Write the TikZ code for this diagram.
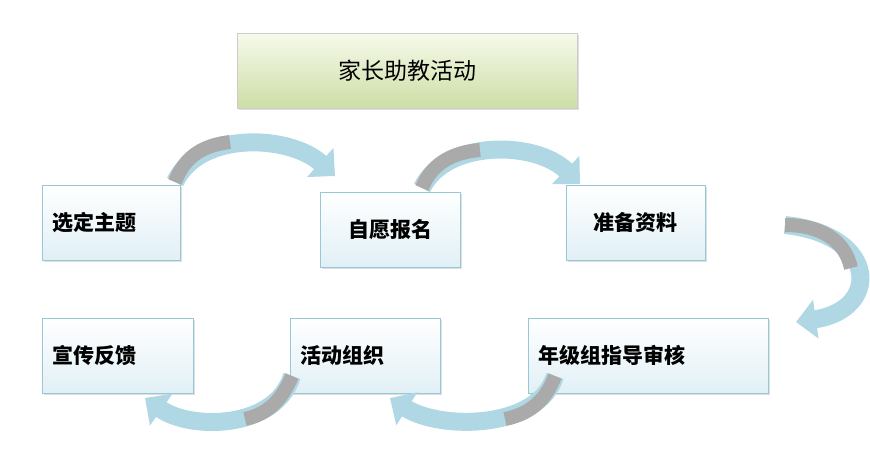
\documentclass[tikz,border=0pt]{standalone}
\usepackage{fontspec}
\newfontfamily\cjk{Noto Sans CJK SC}
\usetikzlibrary{arrows.meta,positioning,shadows}
\definecolor{boxline}{RGB}{150, 200, 215}
\definecolor{boxtop}{RGB}{255, 255, 255}
\definecolor{boxbot}{RGB}{225, 240, 246}
\definecolor{greentop}{RGB}{246, 250, 235}
\definecolor{greenbot}{RGB}{205, 222, 165}
\definecolor{arrowblue}{RGB}{175, 215, 228}
\definecolor{arrowgray}{RGB}{170, 170, 170}
\tikzset{
  stepbox/.style={draw=boxline, top color=boxtop, bottom color=boxbot,
    minimum height=75pt, anchor=north west, font=\cjk\bfseries\fontsize{21}{24}\selectfont,
    drop shadow={opacity=0.25, shadow xshift=2pt, shadow yshift=-2pt}},
  titlebox/.style={draw=black!20, top color=greentop, bottom color=greenbot,
    minimum width=340pt, minimum height=75pt, anchor=north west,
    font=\cjk\fontsize{23}{26}\selectfont,
    drop shadow={opacity=0.25, shadow xshift=2pt, shadow yshift=-2pt}},
  flow/.style={line width=18pt, arrowblue, -{Triangle[length=20pt, width=38pt]}},
  flowcore/.style={line width=14pt, arrowgray}
}
\begin{document}
\begin{tikzpicture}[x=1pt, y=-1pt]
  \useasboundingbox (0,0) rectangle (870,467);
  % title
  \node[titlebox] (title) at (237,33) {家长助教活动};
  % upper row
  \node[stepbox, minimum width=138pt, align=left, text width=118pt] (topic) at (42,185) {选定主题};
  \node[stepbox, minimum width=140pt, align=center] (signup) at (320,192) {自愿报名};
  \node[stepbox, minimum width=139pt, align=center] (prepare) at (566,185) {准备资料};
  % lower row
  \node[stepbox, minimum width=151pt, align=left, text width=131pt] (feedback) at (42,318) {宣传反馈};
  \node[stepbox, minimum width=150pt, align=left, text width=130pt] (organize) at (290,318) {活动组织};
  \node[stepbox, minimum width=240pt, align=left, text width=220pt] (review) at (528,318) {年级组指导审核};
  % curved arrows
  \coordinate (a1s) at (175,182);
  \coordinate (a1e) at (335,176);
  \draw[flow] (a1s) .. controls (200,130) and (290,135) .. (a1e);
  \draw[flowcore] (a1s) .. controls (185,155) and (205,145) .. (230,142);
  \coordinate (a2s) at (422,188);
  \coordinate (a2e) at (580,184);
  \draw[flow] (a2s) .. controls (445,140) and (535,140) .. (a2e);
  \draw[flowcore] (a2s) .. controls (432,162) and (455,152) .. (480,150);
  \coordinate (a3s) at (785,225);
  \coordinate (a3e) at (796,322);
  \draw[flow] (a3s) .. controls (880,235) and (880,310) .. (a3e);
  \draw[flowcore] (a3s) .. controls (820,225) and (845,240) .. (851,268);
  \coordinate (a4s) at (292,376);
  \coordinate (a4e) at (145,398);
  \draw[flow] (a4s) .. controls (275,430) and (190,430) .. (a4e);
  \draw[flowcore] (a4s) .. controls (282,400) and (268,414) .. (245,419);
  \coordinate (a5s) at (555,376);
  \coordinate (a5e) at (390,398);
  \draw[flow] (a5s) .. controls (538,430) and (440,430) .. (a5e);
  \draw[flowcore] (a5s) .. controls (546,400) and (530,414) .. (505,419);
\end{tikzpicture}
\end{document}
